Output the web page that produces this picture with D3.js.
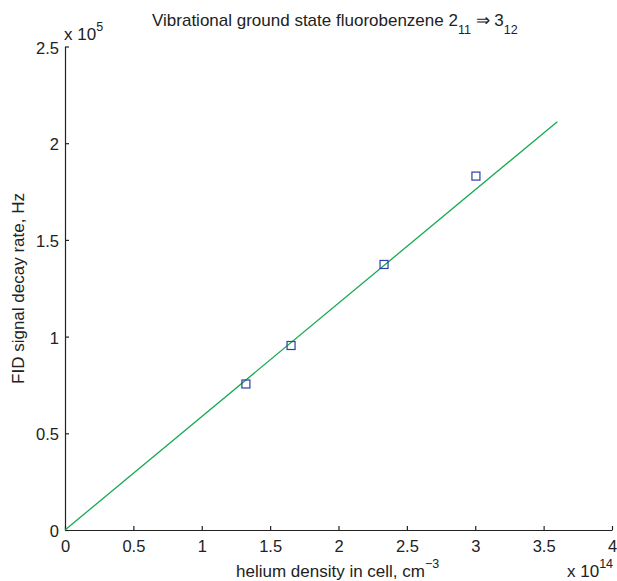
<!DOCTYPE html>
<html>
<head>
<meta charset="utf-8">
<script src="https://cdn.jsdelivr.net/npm/d3@7"></script>
<style>
  body { margin: 0; background: #fff; }
  text { font-family: "Liberation Sans", Arial, sans-serif; fill: #222; }
</style>
</head>
<body>
<div id="chart"></div>
<script>
// helium density (x 1e14 cm^-3) and FID decay rate (x 1e5 Hz)
var densities = [1.323, 1.653, 2.333, 3.005];
var decayRates = [0.755, 0.954, 1.373, 1.830];
// linear fit through origin
var fitX = [0, 3.6];
var fitY = [0, 2.111];
var xTicks = [0, 0.5, 1, 1.5, 2, 2.5, 3, 3.5, 4];
var yTicks = [0, 0.5, 1, 1.5, 2, 2.5];

var width = 617, height = 581;
var margin = {left: 65, right: 5, top: 46.5, bottom: 51};

var svg = d3.select("#chart").append("svg")
    .attr("width", width)
    .attr("height", height);

var x = d3.scaleLinear().domain([0, 4]).range([margin.left, width - margin.right]);
var y = d3.scaleLinear().domain([0, 2.5]).range([height - margin.bottom, margin.top]);

// axes, ticks pointing inward like matlab
var xAxis = svg.append("g")
    .attr("transform", "translate(0," + y(0) + ")")
    .call(d3.axisBottom(x).tickValues(xTicks).tickSizeInner(-4).tickSizeOuter(0).tickPadding(10)
        .tickFormat(function(d) { return d; }));
var yAxis = svg.append("g")
    .attr("transform", "translate(" + x(0) + ",0)")
    .call(d3.axisLeft(y).tickValues(yTicks).tickSizeInner(-4).tickSizeOuter(0).tickPadding(6)
        .tickFormat(function(d) { return d; }));

[xAxis, yAxis].forEach(function(ax) {
    ax.selectAll("path, line").attr("stroke", "#222").attr("stroke-width", 1.2);
    ax.selectAll("text").attr("font-size", "16.5px").style("font-family", "Liberation Sans, Arial, sans-serif").attr("fill", "#222");
});
yAxis.selectAll("text").attr("dy", "0.4em");

// fit line
svg.append("line")
    .attr("x1", x(fitX[0])).attr("y1", y(fitY[0]))
    .attr("x2", x(fitX[1])).attr("y2", y(fitY[1]))
    .attr("stroke", "#16a950")
    .attr("stroke-width", 1.3);

// measured points
var s = 8;
svg.append("g").selectAll("rect")
    .data(densities)
    .enter()
    .append("rect")
    .attr("x", function(d) { return x(d) - s / 2; })
    .attr("y", function(d, i) { return y(decayRates[i]) - s / 2; })
    .attr("width", s).attr("height", s)
    .attr("fill", "none")
    .attr("stroke", "#2b3fa8")
    .attr("stroke-width", 1.2);

// title
var title = svg.append("text")
    .attr("x", 152).attr("y", 26)
    .attr("font-size", "17px");
title.append("tspan").text("Vibrational ground state fluorobenzene 2");
title.append("tspan").attr("dy", 8).attr("font-size", "12.5px").text("11");
title.append("tspan").attr("dy", -8).text(" \u21D2 3");
title.append("tspan").attr("dy", 8).attr("font-size", "12.5px").text("12");

// x label
var xl = svg.append("text")
    .attr("x", 236).attr("y", 577)
    .attr("font-size", "17px");
xl.append("tspan").text("helium density in cell, cm");
xl.append("tspan").attr("dy", -9).attr("font-size", "12.5px").text("\u22123");

// y label
svg.append("text")
    .attr("transform", "translate(24,288.5) rotate(-90)")
    .attr("text-anchor", "middle")
    .attr("font-size", "17px")
    .text("FID signal decay rate, Hz");

// exponent labels
var ey = svg.append("text").attr("x", 64).attr("y", 40).attr("font-size", "17px");
ey.append("tspan").text("x 10");
ey.append("tspan").attr("dy", -9).attr("font-size", "12.5px").text("5");

var ex = svg.append("text").attr("x", 567).attr("y", 577).attr("font-size", "17px");
ex.append("tspan").text("x 10");
ex.append("tspan").attr("dy", -9).attr("font-size", "12.5px").text("14");
</script>
</body>
</html>
